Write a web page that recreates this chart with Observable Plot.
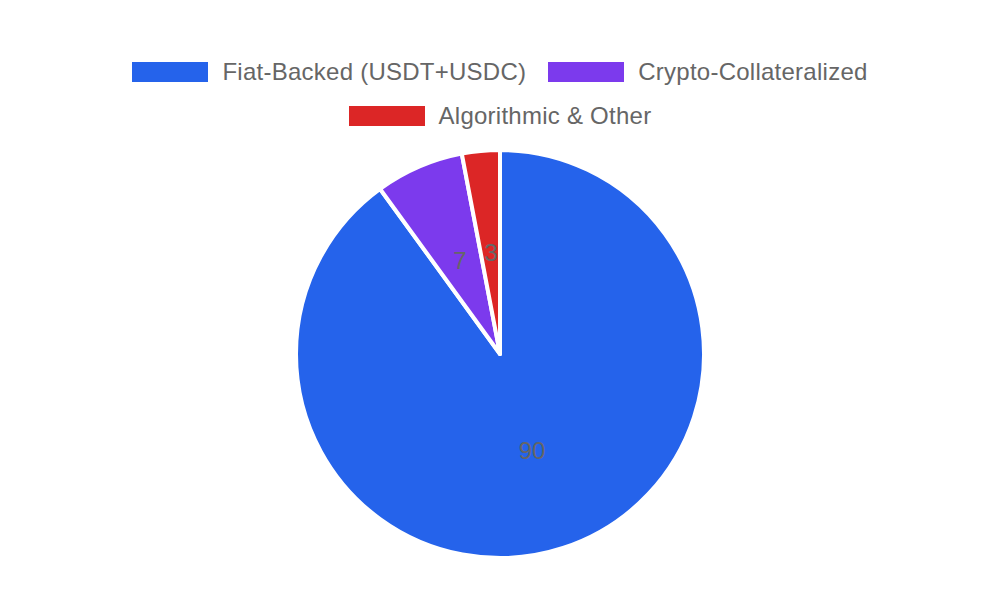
<!DOCTYPE html>
<html>
<head>
<meta charset="utf-8">
<script src="https://cdn.jsdelivr.net/npm/d3@7"></script>
<script src="https://cdn.jsdelivr.net/npm/@observablehq/plot@0.6"></script>
<style>
  html, body { margin: 0; padding: 0; background: #fff; }
  body { width: 1000px; height: 600px; overflow: hidden; font-family: "Liberation Sans", Arial, sans-serif; }
  #legend { box-sizing: border-box; width: 1000px; height: 139px; padding-top: 50px;
    display: flex; flex-wrap: wrap; justify-content: center; align-content: flex-start; column-gap: 22px; }
  .item { display: flex; align-items: center; height: 44px; }
  .swatch { width: 76px; height: 20px; margin-right: 14px; }
  .label { font-size: 24px; color: #666; white-space: nowrap; letter-spacing: 0.25px; }
</style>
</head>
<body>
<div id="legend"></div>
<div id="chart"></div>
<script>
const categories = ["Fiat-Backed (USDT+USDC)", "Crypto-Collateralized", "Algorithmic & Other"];
const values = [90, 7, 3];
const colors = ["#2563eb", "#7c3aed", "#dc2626"];

const W = 1000, H = 461;
const center = {x: 500, y: 215};
const radius = 204;

const data = categories.map((c, i) => ({category: c, value: values[i], color: colors[i]}));
const arcs = d3.pie().sort(null).value(d => d.value)(data);
const arcGen = d3.arc().innerRadius(0).outerRadius(radius);
const labelArc = d3.arc().innerRadius(radius / 2).outerRadius(radius / 2);

// legend
const legend = d3.select("#legend");
data.forEach(d => {
  const it = legend.append("div").attr("class", "item");
  it.append("div").attr("class", "swatch").style("background", d.color);
  it.append("div").attr("class", "label").text(d.category);
});

const pieMark = (index, scales) => {
  const cx = scales.x(center.x), cy = scales.y(center.y);
  const g = d3.create("svg:g").attr("transform", `translate(${cx},${cy})`);
  g.selectAll("path").data(arcs).join("path")
    .attr("d", arcGen)
    .attr("fill", a => scales.color(a.data.category))
    .attr("stroke", "#fff")
    .attr("stroke-width", 4)
    .attr("stroke-linejoin", "round");
  return g.node();
};

const labels = arcs.map(a => {
  const [lx, ly] = labelArc.centroid(a);
  return {x: center.x + lx, y: center.y + ly, text: String(a.data.value)};
});

const chart = Plot.plot({
  width: W, height: H,
  margin: 0,
  x: {domain: [0, W], range: [0, W], axis: null},
  y: {domain: [0, H], range: [0, H], axis: null},
  color: {domain: categories, range: colors},
  style: {fontFamily: "'Liberation Sans', Arial, sans-serif", background: "#fff"},
  marks: [
    pieMark,
    Plot.text(labels, {x: "x", y: "y", text: "text", fill: "#666", fontSize: 24, textAnchor: "middle", lineAnchor: "middle"})
  ]
});
document.getElementById("chart").append(chart);
</script>
</body>
</html>
